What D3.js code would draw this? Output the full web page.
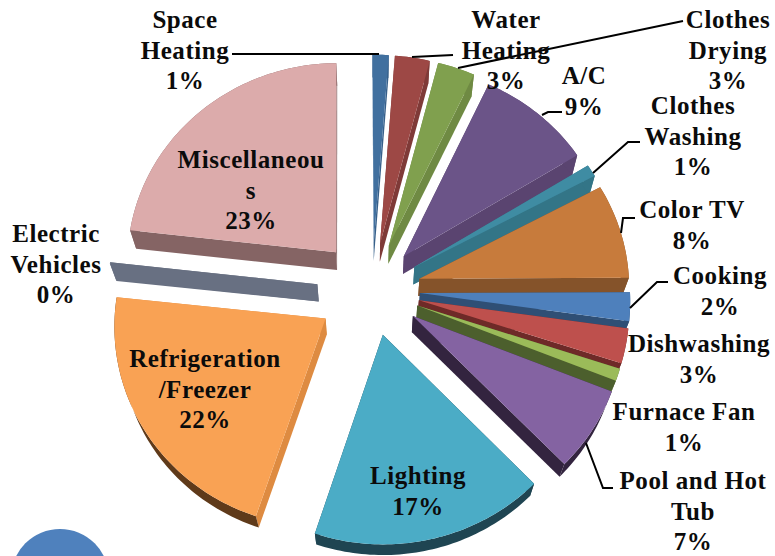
<!DOCTYPE html>
<html>
<head>
<meta charset="utf-8">
<script src="https://cdn.jsdelivr.net/npm/d3@7"></script>
<style>
    html, body { margin: 0; padding: 0; background: #fff; overflow: hidden; }
    text { font-family: "Liberation Serif", serif; font-weight: bold; font-size: 25px; letter-spacing: 0.55px; fill: #0b0b0b; }
</style>
</head>
<body>
<div id="chart"></div>
<script>
'use strict';

const categories = [
    ['Space', 'Heating'], ['Water', 'Heating'], ['Clothes', 'Drying'], ['A/C'],
    ['Clothes', 'Washing'], ['Color TV'], ['Cooking'], ['Dishwashing'],
    ['Furnace Fan'], ['Pool and Hot', 'Tub'], ['Lighting'],
    ['Refrigeration', '/Freezer'], ['Electric', 'Vehicles'], ['Miscellaneou', 's']
];
const values = [1.3, 2.8, 3.0, 9.2, 1.0, 7.7, 2.3, 2.8, 1.0, 6.7, 17.3, 21.6, 0.1, 23.1];

// slice styling, same order as categories
const topColors = ['#41709f', '#9d4845', '#80a04e', '#6b5488', '#3f8ca3', '#c77b3c', '#4e80bc',
    '#be504d', '#9bbb59', '#8463a2', '#4bacc6', '#f9a254', '#687082', '#dcabab'];
const sideColors = ['#37608a', '#7f3a38', '#6f8a43', '#5a4470', '#337587', '#85532a', '#2f4f75',
    '#6e2a28', '#4c5f2d', '#33243f', '#1f4552', '#de8b41', '#687082', '#856464'];
const rimColors = ['#37608a', '#7f3a38', '#6f8a43', '#5a4470', '#337587', '#85532a', '#2f4f75',
    '#6e2a28', '#4c5f2d', '#33243f', '#1f4552', '#5f3a1a', '#687082', '#856464'];
const explode = [50, 50, 50, 48, 49, 49, 48, 48, 48, 49, 48, 55, 55, 54];

// label anchors: centre x, first baseline
const labelAt = [[185, 28], [506, 28], [728, 28], [584, 84], [693, 114], [692, 218], [720, 284],
    [699, 352], [684, 420], [693, 489], [418, 484], [205, 367], [56, 242], [251, 168]];

const leaders = [
    [[232, 54], [379, 54]],
    [[453, 55], [412, 57]],
    [[458, 68], [683, 21]],
    [[542, 115], [548, 112], [562, 112]],
    [[593, 173], [628, 142], [640, 142]],
    [[621, 233], [623, 218], [635, 218]],
    [[630, 308], [657, 282], [668, 282]],
    [[586, 443], [603, 488], [613, 488]]
];

const width = 775, height = 556;
const cx = 372, cy = 290,
    radius = 210,
    tilt = 0.95,
    perspBack = 0.00019,   // foreshortening towards the back of the pie
    perspFront = 0.00016,
    depth = 17,
    shrink = 0.975,        // base of the pie sits a bit further away
    rotation = -0.006,
    lineHeight = 30.5;

const svg = d3.select('#chart').append('svg')
    .attr('width', width)
    .attr('height', height)
    .attr('viewBox', '0 0 ' + width + ' ' + height);

function project (u, v) {
    var f = 1 / (1 + (v > 0 ? perspBack : perspFront) * v);
    return [cx + u * f, cy - tilt * v * f];
}

function lower (p) {
    return [cx + (p[0] - cx) * shrink, cy + (p[1] - cy) * shrink + depth];
}

// a0/a1 clockwise from 12 o'clock
function pointOn (a, r, e, mid) {
    return project(e * Math.sin(mid) + r * Math.sin(a), e * Math.cos(mid) + r * Math.cos(a));
}

const line = d3.line();
const pie = d3.pie().sort(null).startAngle(rotation).endAngle(rotation + 2 * Math.PI);
const arcs = pie(values);
const pct = d3.format('.0%');
const total = d3.sum(values);

svg.append('circle')
    .attr('cx', 60)
    .attr('cy', 578)
    .attr('r', 49)
    .attr('fill', '#4f81bd');

arcs.forEach(function (d, i) {
    var mid = (d.startAngle + d.endAngle) / 2,
        e = explode[i],
        steps = Math.max(2, Math.ceil((d.endAngle - d.startAngle) / 0.02)),
        rim = d3.range(steps + 1).map(function (k) {
            var a = d.startAngle + (d.endAngle - d.startAngle) * k / steps;
            return pointOn(a, radius, e, mid);
        }),
        apex = pointOn(mid, 0, e, mid),
        g = svg.append('g').attr('class', 'slice');

    // walls first, the top face hides whichever ones face away
    [rim[0], rim[rim.length - 1]].forEach(function (p) {
        g.append('path')
            .attr('d', line([apex, p, lower(p), lower(apex)]) + 'Z')
            .attr('fill', sideColors[i]);
    });
    g.append('path')
        .attr('d', line(rim.concat(rim.map(lower).reverse())) + 'Z')
        .attr('fill', rimColors[i]);
    g.append('path')
        .attr('d', line([apex].concat(rim)) + 'Z')
        .attr('fill', topColors[i]);
});

svg.selectAll('path.leader')
    .data(leaders)
    .enter().append('path')
    .attr('class', 'leader')
    .attr('d', line)
    .attr('fill', 'none')
    .attr('stroke', '#000')
    .attr('stroke-width', 2);

arcs.forEach(function (d, i) {
    var lines = categories[i].concat(pct(d.value / total)),
        t = svg.append('text')
            .attr('text-anchor', 'middle')
            .attr('transform', 'translate(' + labelAt[i][0] + ',' + labelAt[i][1] + ')');

    t.selectAll('tspan')
        .data(lines)
        .enter().append('tspan')
        .attr('x', 0)
        .attr('y', function (s, k) { return k * lineHeight; })
        .text(function (s) { return s; });
});
</script>
</body>
</html>
